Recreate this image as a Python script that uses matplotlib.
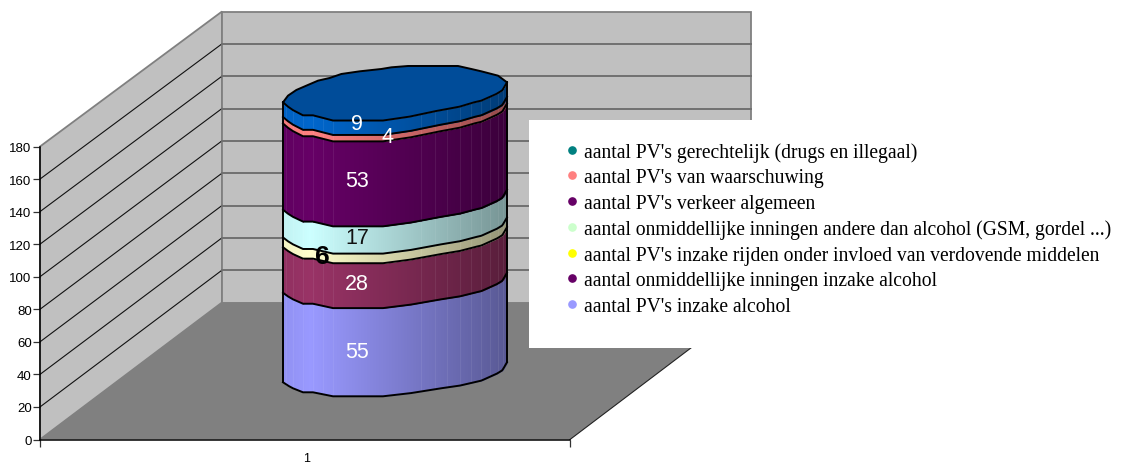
import numpy as np
import matplotlib
matplotlib.use('Agg')
import matplotlib.pyplot as plt
from matplotlib.lines import Line2D
from matplotlib.patches import Polygon, Rectangle

FIG_W, FIG_H = 1121, 464

# stacked from bottom to top
series_names = [
    "aantal PV's inzake alcohol",
    "aantal onmiddellijke inningen inzake alcohol",
    "aantal PV's inzake rijden onder invloed van verdovende middelen",
    "aantal onmiddellijke inningen andere dan alcohol (GSM, gordel ...)",
    "aantal PV's verkeer algemeen",
    "aantal PV's van waarschuwing",
    "aantal PV's gerechtelijk (drugs en illegaal)",
]
series_values = [55, 28, 6, 17, 53, 4, 9]
side_colors = ['#9999FF', '#993366', '#FFFFCC', '#CCFFFF', '#660066', '#FF8080', '#0066CC']
legend_colors = ['#9999FF', '#660066', '#FFFF00', '#CCFFCC', '#660066', '#FF8080', '#008080']
label_colors = ['white', 'white', 'black', '#111111', 'white', 'white', 'white']
label_weights = ['normal', 'normal', 'bold', 'normal', 'normal', 'normal', 'normal']
label_sizes = [15.5, 15.5, 19, 15.5, 15.5, 15.5, 15.5]
label_dx = [0, 0, -35, 0, 0, 30, 0]
label_dy = [0, 0, 0, 0, 0, -1.5, 0]

y_ticks = np.arange(0, 181, 20)
category_label = '1'

# plot box and oblique depth, px
AX_LEFT, AX_BOTTOM, AX_W, AX_H = 40, 440.5, 530, 293
DEPTH_X, DEPTH_PX = 182, 137
PX_PER_UNIT = AX_H / 180
DEPTH_Y = DEPTH_PX / PX_PER_UNIT
BACK_SCALE = 291 / 293

# wobbly outline of the cylinder, px from its left corner
front_x = (np.array([70, 85, 100, 130, 160, 220, 300, 370, 450, 530, 600, 665, 710, 728, 742]) - 70) / 3
front_drop = np.array([0, 10, 18, 30, 30, 42, 42, 42, 33, 20, 10, -5, -25, -36, -60]) / 3
back_x = (np.array([70, 85, 110, 140, 175, 210, 245, 300, 365, 395, 445, 595, 635, 665, 715, 742]) - 70) / 3
back_drop = np.array([0, -20, -37, -50, -65, -73, -85, -93, -100, -105, -109, -109, -100, -93, -80, -60]) / 3
facet_x = (np.array([80, 100, 130, 160, 190, 220, 485, 527, 562, 600, 635, 665, 690, 715, 730]) - 70) / 3

CYL_LEFT = 283 - AX_LEFT
CYL_BASE = (AX_BOTTOM - 383.3) / PX_PER_UNIT  # left corner of the base, in axis units
LABEL_X = 357 - AX_LEFT


def front_edge(x_rel, level):
    # the dip of the front edge grows a bit towards the lid
    drop = np.interp(x_rel, front_x, front_drop)
    drop = np.where(drop > 0, drop * (1 + 0.3 * level / sum(series_values)), drop)
    return CYL_BASE + level - drop / PX_PER_UNIT


def side_shade(x_rel):
    return np.interp(x_rel, [0, 27, 224], [0.95, 1.0, 0.58])


def draw_walls(ax):
    wall = '#C0C0C0'
    edge = '#808080'
    back_top = DEPTH_Y + 180 * BACK_SCALE
    ax.add_patch(Polygon([(0, 0), (0, 180), (DEPTH_X, back_top), (DEPTH_X, DEPTH_Y)],
                         fc=wall, ec=edge, lw=1.3, clip_on=False, zorder=1))
    ax.add_patch(Rectangle((DEPTH_X, DEPTH_Y), AX_W - 1, 180 * BACK_SCALE, fc=wall, ec=edge, lw=1.3,
                           clip_on=False, zorder=1))
    ax.add_patch(Polygon([(0, 0), (DEPTH_X, DEPTH_Y), (DEPTH_X + AX_W - 1, DEPTH_Y), (AX_W, 0)],
                         fc='#808080', ec='none', clip_on=False, zorder=1.5))
    ax.plot([AX_W, DEPTH_X + AX_W - 1], [0, DEPTH_Y], color='#222222', lw=0.8, clip_on=False, zorder=1.6)
    for v in y_ticks[1:-1]:
        back_y = DEPTH_Y + v * BACK_SCALE
        ax.plot([0, DEPTH_X], [v, back_y], color='#111111', lw=0.8, clip_on=False, zorder=2)
        ax.plot([DEPTH_X, DEPTH_X + AX_W - 1], [back_y, back_y], color='#707070', lw=1.4,
                clip_on=False, zorder=2)


def draw_cylinder(ax):
    xs = np.arange(0, front_x[-1] + 1, 1.0)
    levels = np.concatenate(([0], np.cumsum(series_values)))
    for i, color in enumerate(side_colors):
        base_rgb = np.array(matplotlib.colors.to_rgb(color))
        lo = front_edge(xs, levels[i])
        hi = front_edge(xs, levels[i + 1])
        for j in range(len(xs) - 1):
            # each strip overlaps the next one so no gaps show on the slanted parts
            strip_x = [xs[j], min(xs[j + 1] + 1, xs[-1])]
            ax.fill_between(CYL_LEFT + np.array(strip_x), lo[j:j + 2], hi[j:j + 2],
                            color=base_rgb * side_shade(xs[j]), lw=0, antialiased=False,
                            clip_on=False, zorder=3)
        for fx in facet_x:
            ax.plot([CYL_LEFT + fx] * 2, [front_edge(fx, levels[i]), front_edge(fx, levels[i + 1])],
                    color=(base_rgb * side_shade(fx) * 0.9 + 0.1), lw=0.5, clip_on=False, zorder=3.1)
    for level in levels[:-1]:
        ax.plot(CYL_LEFT + xs, front_edge(xs, level), color='black', lw=1.4, clip_on=False, zorder=3.2)
    for x_edge in (0, front_x[-1]):
        ax.plot([CYL_LEFT + x_edge] * 2, [front_edge(x_edge, 0), front_edge(x_edge, levels[-1])],
                color='black', lw=1.4, clip_on=False, zorder=3.2)

    # lid
    top_front = np.column_stack((CYL_LEFT + xs, front_edge(xs, levels[-1])))
    top_back_y = CYL_BASE + levels[-1] - back_drop / PX_PER_UNIT
    top_back = np.column_stack((CYL_LEFT + back_x, top_back_y))[::-1]
    ax.add_patch(Polygon(np.vstack((top_front, top_back)), closed=True, fc='#004C99', ec='black',
                         lw=1.4, clip_on=False, zorder=3.3))


def draw_labels(ax):
    levels = np.concatenate(([0], np.cumsum(series_values)))
    base = CYL_BASE - np.interp(LABEL_X - CYL_LEFT, front_x, front_drop) / PX_PER_UNIT
    for i, val in enumerate(series_values):
        ax.text(LABEL_X + label_dx[i], base + levels[i] + val / 2 + label_dy[i], str(val),
                color=label_colors[i], fontweight=label_weights[i], fontsize=label_sizes[i],
                family='Liberation Sans', ha='center', va='center', zorder=4, clip_on=False)


def draw_legend(fig, ax):
    fig.add_artist(Rectangle((529 / FIG_W, 1 - 349 / FIG_H), (FIG_W - 529) / FIG_W, 228 / FIG_H,
                             transform=fig.transFigure, fc='white', ec='none', zorder=5))
    handles = [Line2D([], [], ls='none', marker='o', ms=5.2, color=c, mec=c) for c in legend_colors[::-1]]
    leg = fig.legend(handles, series_names[::-1], loc='upper left',
                     bbox_to_anchor=(565 / FIG_W, 1 - 143 / FIG_H), bbox_transform=fig.transFigure,
                     frameon=False, borderpad=0, borderaxespad=0, handletextpad=0.22,
                     handlelength=0.75, labelspacing=0.335, prop={'family': 'Liberation Serif', 'size': 14.1})
    leg.set_zorder(6)


plt.rcParams['font.family'] = ['Liberation Sans', 'DejaVu Sans']
fig = plt.figure(figsize=(FIG_W / 100, FIG_H / 100), dpi=100)
ax = fig.add_axes([AX_LEFT / FIG_W, 1 - AX_BOTTOM / FIG_H, AX_W / FIG_W, AX_H / FIG_H])
ax.set_xlim(0, AX_W)
ax.set_ylim(0, 180)
ax.patch.set_alpha(0)

draw_walls(ax)
draw_cylinder(ax)
draw_labels(ax)

ax.spines['top'].set_visible(False)
ax.spines['right'].set_visible(False)
ax.spines['left'].set_linewidth(1.1)
ax.spines['bottom'].set_linewidth(1.1)
ax.spines['left'].set_zorder(2.5)
ax.spines['bottom'].set_zorder(2.5)
ax.set_yticks(y_ticks)
ax.tick_params(axis='y', length=5, width=0.9, labelsize=9.5, pad=1, color='#333333')
ax.set_xticks([0, AX_W])
ax.set_xticklabels(['', ''])
ax.tick_params(axis='x', length=5, width=0.9, color='#333333')
ax.set_xticks([AX_W / 2 + 2], labels=[category_label], minor=True)
ax.tick_params(axis='x', which='minor', length=0, labelsize=9, pad=9)

draw_legend(fig, ax)

fig.savefig('out.png', dpi=100)
